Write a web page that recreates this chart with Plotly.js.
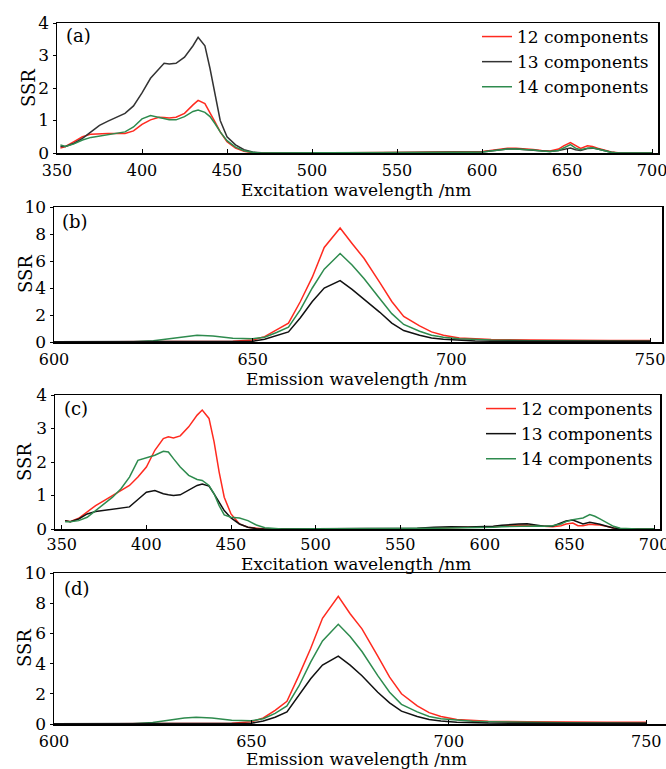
<!DOCTYPE html>
<html>
<head>
<meta charset="utf-8">
<script src="https://cdn.plot.ly/plotly-3.0.1.min.js"></script>
<style>html,body{margin:0;padding:0;background:#fff;}#chart{width:666px;height:769px;}</style>
</head>
<body>
<div id="chart"></div>
<script>
// ---------- data ----------
const seriesNames = ["12 components", "13 components", "14 components"];

// Excitation wavelengths (panels a and c)
const exWave = [352,355,360,365,370,375,380,385,390,395,
  400,405,410,413,416,420,425,430,433,437,
  440,443,446,450,455,460,465,470,480,500,
  520,540,560,570,580,590,600,605,610,615,
  620,625,630,635,640,645,648,652,655,658,
  662,665,668,672,676,680,685,690,700];

// panel (a)
const a12 = [0.15,0.2,0.35,0.5,0.58,0.6,0.6,0.6,0.6,0.68,
  0.88,1.02,1.1,1.09,1.08,1.1,1.22,1.48,1.62,1.52,
  1.25,0.95,0.65,0.35,0.15,0.05,0.01,0,0,0,
  0,0,0.02,0.03,0.04,0.04,0.05,0.08,0.12,0.15,
  0.15,0.14,0.11,0.08,0.06,0.12,0.22,0.32,0.22,0.14,
  0.22,0.2,0.15,0.08,0.03,0.01,0,0,0];
const a13 = [0.2,0.2,0.3,0.45,0.65,0.85,0.98,1.1,1.22,1.45,
  1.85,2.3,2.6,2.76,2.74,2.76,2.95,3.3,3.56,3.3,
  2.6,1.8,1.0,0.5,0.25,0.1,0.03,0.01,0,0,
  0,0.01,0.02,0.03,0.04,0.03,0.03,0.06,0.1,0.12,
  0.12,0.1,0.08,0.06,0.05,0.08,0.12,0.15,0.1,0.08,
  0.14,0.15,0.12,0.06,0.02,0,0,0,0];
const a14 = [0.25,0.2,0.28,0.4,0.48,0.52,0.56,0.6,0.65,0.8,
  1.05,1.15,1.1,1.05,1.02,1.02,1.12,1.28,1.32,1.25,
  1.12,0.9,0.65,0.38,0.18,0.07,0.02,0,0,0,
  0,0,0,0.01,0.02,0.02,0.03,0.06,0.1,0.12,
  0.12,0.11,0.09,0.06,0.05,0.08,0.15,0.26,0.15,0.1,
  0.15,0.16,0.12,0.06,0.02,0,0,0,0];

// panel (c)
const c12 = [0.25,0.22,0.32,0.5,0.7,0.85,1.0,1.15,1.3,1.55,
  1.85,2.35,2.7,2.75,2.72,2.78,3.05,3.4,3.55,3.3,
  2.6,1.7,0.95,0.45,0.15,0.05,0.02,0,0,0,
  0,0,0.01,0.03,0.05,0.05,0.05,0.07,0.1,0.11,
  0.12,0.11,0.1,0.08,0.07,0.1,0.15,0.18,0.1,0.1,
  0.14,0.13,0.12,0.08,0.03,0.01,0,0,0];
const c13 = [0.25,0.22,0.3,0.45,0.52,0.55,0.58,0.62,0.66,0.88,
  1.1,1.15,1.05,1.02,1.0,1.02,1.15,1.3,1.34,1.28,
  1.05,0.8,0.55,0.33,0.15,0.05,0.01,0,0,0,
  0,0,0.02,0.05,0.07,0.06,0.06,0.08,0.11,0.14,
  0.15,0.16,0.12,0.08,0.08,0.18,0.24,0.27,0.2,0.15,
  0.2,0.18,0.14,0.08,0.03,0.01,0,0,0];
const c14 = [0.22,0.22,0.25,0.35,0.55,0.75,0.95,1.2,1.55,2.05,
  2.12,2.2,2.32,2.3,2.1,1.85,1.6,1.48,1.45,1.3,
  1.05,0.7,0.42,0.35,0.33,0.25,0.12,0.04,0,0,
  0,0,0.01,0.02,0.03,0.03,0.03,0.05,0.07,0.08,
  0.09,0.1,0.09,0.08,0.1,0.15,0.22,0.28,0.3,0.33,
  0.43,0.38,0.3,0.18,0.08,0.02,0,0,0];

// Emission wavelengths (panels b and d)
const emWave = [600,610,620,625,630,633,636,640,645,650,
  653,656,659,662,665,668,672,675,678,682,
  685,688,692,695,698,702,706,710,720,730,740,750];

// panel (b)
const b12 = [0,0,0,0.02,0.03,0.04,0.04,0.04,0.05,0.15,
  0.4,0.9,1.4,3.0,4.8,7.0,8.45,7.3,6.2,4.4,
  3.0,1.9,1.2,0.75,0.5,0.3,0.22,0.18,0.15,0.12,0.12,0.12];
const b13 = [0.02,0.02,0.02,0.02,0.02,0.02,0.02,0.02,0.03,0.05,
  0.2,0.45,0.75,1.8,3.0,4.0,4.55,3.9,3.2,2.2,
  1.4,0.85,0.5,0.3,0.2,0.12,0.08,0.06,0.05,0.05,0.05,0.05];
const b14 = [0,0,0.02,0.1,0.3,0.42,0.5,0.45,0.28,0.25,
  0.35,0.7,1.1,2.4,4.0,5.4,6.55,5.7,4.7,3.2,
  2.1,1.3,0.8,0.5,0.35,0.25,0.18,0.15,0.1,0.08,0.06,0.05];

// panel (d)
const d12 = [0,0,0,0.02,0.03,0.04,0.04,0.04,0.05,0.15,
  0.4,0.9,1.5,3.2,5.0,7.0,8.45,7.3,6.3,4.5,
  3.1,2.0,1.2,0.75,0.5,0.3,0.22,0.18,0.15,0.12,0.12,0.12];
const d13 = [0.02,0.02,0.02,0.02,0.02,0.02,0.02,0.02,0.03,0.05,
  0.2,0.45,0.8,1.9,3.0,3.9,4.5,3.9,3.2,2.1,
  1.4,0.85,0.5,0.3,0.2,0.12,0.08,0.06,0.05,0.05,0.05,0.05];
const d14 = [0,0,0.02,0.1,0.3,0.4,0.45,0.4,0.25,0.22,
  0.35,0.7,1.2,2.5,4.1,5.5,6.6,5.8,4.8,3.2,
  2.1,1.3,0.8,0.5,0.35,0.25,0.18,0.15,0.1,0.08,0.06,0.05];

// ---------- styling ----------
const W = 666, H = 769;
const FONT = "DejaVu Serif";
const RED = "#ff2a1f", BLACK_A = "#333333", BLACK = "#111111", GREEN = "#2e8b4e";

function px2x(p) { return p / W; }
function px2y(p) { return 1 - p / H; }

// panel boxes in pixels: [left, right, top, bottom]
const boxes = {
  a: [57, 658, 23, 153],
  b: [54, 662, 207, 342],
  c: [55, 660, 395, 529],
  d: [54, 666, 573, 724]
};

function tr(x, y, name, color, xa, ya, legend, show) {
  return {x: x, y: y, name: name, type: "scatter", mode: "lines",
    line: {color: color, width: 1.5}, xaxis: xa, yaxis: ya,
    legend: legend, showlegend: show, hoverinfo: "skip"};
}

const data = [
  tr(exWave, a12, seriesNames[0], RED, "x", "y", "legend", true),
  tr(exWave, a13, seriesNames[1], BLACK_A, "x", "y", "legend", true),
  tr(exWave, a14, seriesNames[2], GREEN, "x", "y", "legend", true),
  tr(emWave, b12, seriesNames[0], RED, "x2", "y2", "legend", false),
  tr(emWave, b14, seriesNames[2], GREEN, "x2", "y2", "legend", false),
  tr(emWave, b13, seriesNames[1], BLACK, "x2", "y2", "legend", false),
  tr(exWave, c12, seriesNames[0], RED, "x3", "y3", "legend2", true),
  tr(exWave, c13, seriesNames[1], BLACK, "x3", "y3", "legend2", true),
  tr(exWave, c14, seriesNames[2], GREEN, "x3", "y3", "legend2", true),
  tr(emWave, d12, seriesNames[0], RED, "x4", "y4", "legend", false),
  tr(emWave, d14, seriesNames[2], GREEN, "x4", "y4", "legend", false),
  tr(emWave, d13, seriesNames[1], BLACK, "x4", "y4", "legend", false)
];

function xax(box, range, dtick, anchor, standoff) {
  return {domain: [px2x(box[0]), px2x(box[1])], range: range, dtick: dtick, tick0: 0,
    anchor: anchor, showline: true, mirror: true, linecolor: "#000", linewidth: 1.5,
    ticks: "inside", ticklen: 4, tickcolor: "#000", showgrid: false, zeroline: false,
    ticklabeloverflow: "allow", ticklabelstandoff: standoff,
    tickfont: {family: FONT, size: 16, color: "#000"}, fixedrange: true};
}
function yax(box, range, dtick, anchor) {
  return {domain: [px2y(box[3]), px2y(box[2])], range: range, dtick: dtick, tick0: 0,
    anchor: anchor, showline: true, mirror: true, linecolor: "#000", linewidth: 1.5,
    ticks: "outside", ticklen: 3, tickcolor: "#000", showgrid: false, zeroline: false,
    ticklabeloverflow: "allow",
    tickfont: {family: FONT, size: 17, color: "#000"}, fixedrange: true};
}

const annFont = {family: FONT, size: 17, color: "#000"};
const bigFont = {family: FONT, size: 18, color: "#000"};
function ann(text, xp, yp, extra) {
  return Object.assign({text: text, x: px2x(xp), y: px2y(yp), xref: "paper", yref: "paper",
    showarrow: false, font: annFont, xanchor: "center", yanchor: "middle"}, extra || {});
}

const annotations = [
  ann("(a)", 64, 36, {xanchor: "left", font: bigFont}),
  ann("(b)", 60, 221, {xanchor: "left", font: bigFont}),
  ann("(c)", 62, 409, {xanchor: "left", font: bigFont}),
  ann("(d)", 62, 588, {xanchor: "left", font: bigFont}),
  ann("Excitation wavelength /nm", 356, 190),
  ann("Emission wavelength /nm", 356, 379),
  ann("Excitation wavelength /nm", 356, 564),
  ann("Emission wavelength /nm", 356, 759),
  ann("SSR", 28, 88, {textangle: -90, font: bigFont}),
  ann("SSR", 26, 274, {textangle: -90, font: bigFont}),
  ann("SSR", 24, 462, {textangle: -90, font: bigFont}),
  ann("SSR", 24, 648, {textangle: -90, font: bigFont})
];

const legendCommon = {xref: "paper", yref: "paper", xanchor: "right", yanchor: "top",
  bgcolor: "rgba(0,0,0,0)", borderwidth: 0, font: {family: FONT, size: 17, color: "#000"},
  tracegroupgap: 0, itemwidth: 30};

const layout = {
  width: W, height: H, margin: {l: 0, r: 0, t: 0, b: 0},
  paper_bgcolor: "#fff", plot_bgcolor: "#fff", showlegend: true,
  font: {family: FONT, size: 16, color: "#000"},
  xaxis: xax(boxes.a, [350, 703.5], 50, "y", 2),
  yaxis: yax(boxes.a, [0, 4], 1, "x"),
  xaxis2: xax(boxes.b, [600, 753], 50, "y2", 2),
  yaxis2: yax(boxes.b, [0, 10], 2, "x2"),
  xaxis3: xax(boxes.c, [346, 703.5], 50, "y3", 0),
  yaxis3: yax(boxes.c, [0, 4], 1, "x3"),
  xaxis4: xax(boxes.d, [600, 755], 50, "y4", 2),
  yaxis4: yax(boxes.d, [0, 10], 2, "x4"),
  legend: Object.assign({}, legendCommon, {x: px2x(654), y: px2y(19)}),
  legend2: Object.assign({}, legendCommon, {x: px2x(658), y: px2y(391)}),
  annotations: annotations
};

Plotly.newPlot("chart", data, layout, {staticPlot: true, displayModeBar: false});
</script>
</body>
</html>
